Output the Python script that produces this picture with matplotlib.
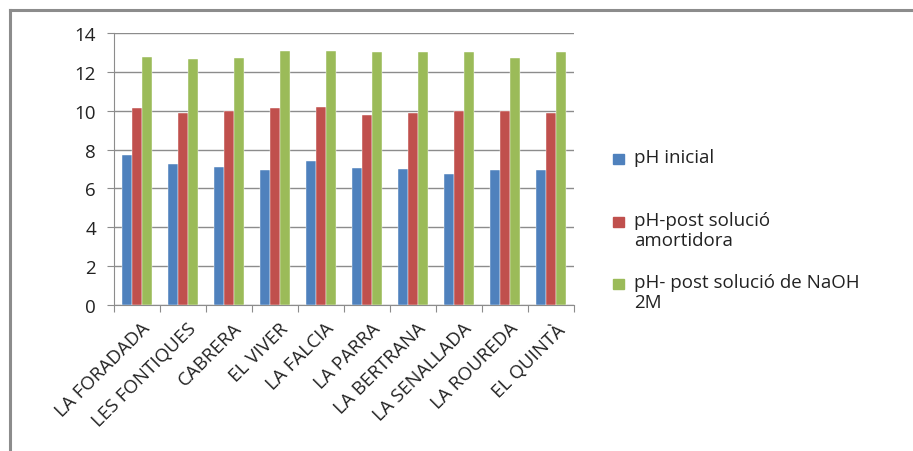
import matplotlib
matplotlib.use("Agg")
import matplotlib.pyplot as plt
from matplotlib.lines import Line2D
from matplotlib.patches import Rectangle
import numpy as np

plt.rcParams['font.family'] = ['Open Sans', 'DejaVu Sans']

sites = ["LA FORADADA", "LES FONTIQUES", "CABRERA", "EL VIVER", "LA FALCIA",
         "LA PARRA", "LA BERTRANA", "LA SENALLADA", "LA ROUREDA", "EL QUINTÀ"]
ph_initial = [7.72, 7.26, 7.09, 6.95, 7.39, 7.03, 6.98, 6.74, 6.95, 6.95]
ph_buffer = [10.12, 9.90, 9.98, 10.12, 10.17, 9.80, 9.86, 10.00, 10.00, 9.90]
ph_naoh = [12.78, 12.68, 12.73, 13.07, 13.07, 13.04, 13.04, 13.04, 12.73, 13.04]
series_names = ["pH inicial", "pH-post solució\namortidora",
                "pH- post solució de NaOH\n2M"]
colors = ["#4F81BD", "#C0504D", "#9BBB59"]
y_ticks = [0, 2, 4, 6, 8, 10, 12, 14]

FS = 13.5
TXT = "#222222"
W, H = 913, 452
fig = plt.figure(figsize=(W / 100, H / 100), dpi=100)
ax = fig.add_axes([114 / W, 1 - 306 / H, 460 / W, 272 / H])

x = np.arange(len(sites))
bw = 10 / 46
for i, (vals, c) in enumerate(zip([ph_initial, ph_buffer, ph_naoh], colors)):
    ax.bar(x + (i - 1) * bw, vals, width=bw, color=c, zorder=3,
           edgecolor="white", linewidth=0.3)

ax.set_xlim(-0.5, len(sites) - 0.5)
ax.set_ylim(0, 14)
ax.set_yticks(y_ticks)
ax.set_yticklabels([str(v) for v in y_ticks], fontsize=FS, color=TXT)
ax.yaxis.grid(True, color="#8c8c8c", linewidth=1.0, zorder=0)
ax.set_axisbelow(True)

# category boundaries carry the x tick marks
ax.set_xticks(np.arange(-0.5, len(sites), 1.0))
ax.set_xticklabels([])
ax.set_xticks(x + 0.08, minor=True)
ax.set_xticklabels(sites, minor=True, rotation=45, ha="right", va="top",
                   rotation_mode="anchor", fontsize=FS, color=TXT)
ax.tick_params(axis="x", which="minor", length=0, pad=10)
ax.tick_params(axis="x", which="major", length=5, color="#8c8c8c", direction="out")
ax.tick_params(axis="y", length=5, color="#8c8c8c", direction="out", pad=8)

for s in ["top", "right"]:
    ax.spines[s].set_visible(False)
ax.spines["left"].set_color("#8c8c8c")
ax.spines["bottom"].set_color("#8c8c8c")

# legend: square key beside the first line of each entry
legend_rows = [160, 223, 285]
for name, c, yp in zip(series_names, colors, legend_rows):
    fig.add_artist(Rectangle((613 / W, 1 - (yp + 5) / H), 11 / W, 10 / H,
                             color=c, transform=fig.transFigure))
    fig.text(634 / W, 1 - (yp - 11) / H, name, fontsize=FS, color=TXT,
             va="top", ha="left", linespacing=1.15)

# outer chart frame (top and left edges)
fig.add_artist(Line2D([10 / W, 1.0], [1 - 11 / H, 1 - 11 / H], color="#8c8c8c",
                      linewidth=2.2, transform=fig.transFigure))
fig.add_artist(Line2D([10 / W, 10 / W], [1 - 11 / H, 0], color="#8c8c8c",
                      linewidth=2.2, transform=fig.transFigure))

fig.savefig("out.png", dpi=100)
